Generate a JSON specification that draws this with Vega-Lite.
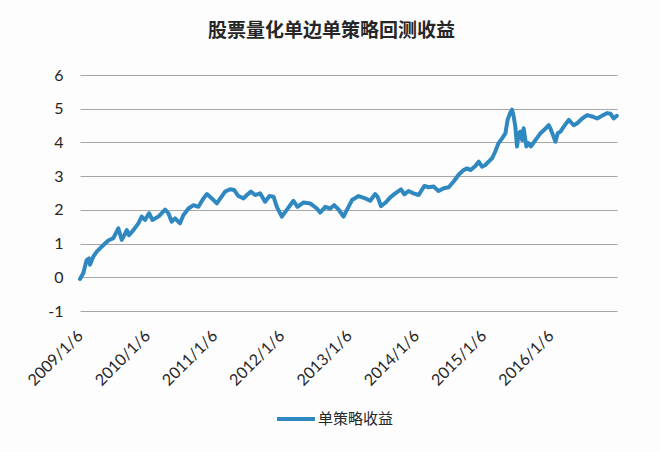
{
  "$schema": "https://vega.github.io/schema/vega-lite/v6.json",
  "autosize": "none",
  "width": 537,
  "height": 236,
  "padding": {"left": 80, "top": 75, "right": 43, "bottom": 141},
  "background": "#fdfdfe",
  "config": {"view": {"stroke": null}},
  "title": {
    "text": "股票量化单边单策略回测收益",
    "font": "Noto Sans CJK SC",
    "fontSize": 19,
    "fontWeight": "bold",
    "color": "#262626",
    "anchor": "middle",
    "dx": -17,
    "offset": 26
  },
  "data": {
    "values": [
      {"date": "2009-01-06", "v": -0.05},
      {"date": "2009-01-11", "v": 0.0},
      {"date": "2009-01-24", "v": 0.12},
      {"date": "2009-02-11", "v": 0.51},
      {"date": "2009-02-24", "v": 0.56},
      {"date": "2009-03-01", "v": 0.37},
      {"date": "2009-03-19", "v": 0.61},
      {"date": "2009-04-07", "v": 0.76},
      {"date": "2009-04-25", "v": 0.86},
      {"date": "2009-05-22", "v": 1.0},
      {"date": "2009-06-09", "v": 1.09},
      {"date": "2009-07-06", "v": 1.16},
      {"date": "2009-07-24", "v": 1.35},
      {"date": "2009-08-02", "v": 1.45},
      {"date": "2009-08-21", "v": 1.11},
      {"date": "2009-09-04", "v": 1.25},
      {"date": "2009-09-17", "v": 1.40},
      {"date": "2009-09-29", "v": 1.25},
      {"date": "2009-10-23", "v": 1.40},
      {"date": "2009-11-19", "v": 1.60},
      {"date": "2009-12-07", "v": 1.80},
      {"date": "2009-12-25", "v": 1.70},
      {"date": "2010-01-16", "v": 1.90},
      {"date": "2010-02-03", "v": 1.70},
      {"date": "2010-03-08", "v": 1.80},
      {"date": "2010-04-13", "v": 2.01},
      {"date": "2010-05-01", "v": 1.90},
      {"date": "2010-05-19", "v": 1.65},
      {"date": "2010-06-06", "v": 1.75},
      {"date": "2010-07-03", "v": 1.60},
      {"date": "2010-07-21", "v": 1.84},
      {"date": "2010-08-18", "v": 2.04},
      {"date": "2010-09-14", "v": 2.14},
      {"date": "2010-10-11", "v": 2.09},
      {"date": "2010-11-07", "v": 2.34},
      {"date": "2010-11-26", "v": 2.47},
      {"date": "2010-12-23", "v": 2.34},
      {"date": "2011-01-19", "v": 2.19},
      {"date": "2011-03-05", "v": 2.54},
      {"date": "2011-04-01", "v": 2.61},
      {"date": "2011-04-23", "v": 2.59},
      {"date": "2011-05-16", "v": 2.41},
      {"date": "2011-06-13", "v": 2.34},
      {"date": "2011-07-01", "v": 2.44},
      {"date": "2011-07-23", "v": 2.54},
      {"date": "2011-08-15", "v": 2.44},
      {"date": "2011-09-11", "v": 2.49},
      {"date": "2011-10-08", "v": 2.24},
      {"date": "2011-11-01", "v": 2.41},
      {"date": "2011-11-23", "v": 2.39},
      {"date": "2011-12-11", "v": 2.09},
      {"date": "2012-01-07", "v": 1.80},
      {"date": "2012-02-03", "v": 2.00},
      {"date": "2012-03-10", "v": 2.27},
      {"date": "2012-04-01", "v": 2.09},
      {"date": "2012-05-04", "v": 2.22},
      {"date": "2012-06-09", "v": 2.19},
      {"date": "2012-07-15", "v": 2.04},
      {"date": "2012-08-02", "v": 1.92},
      {"date": "2012-08-30", "v": 2.09},
      {"date": "2012-09-26", "v": 2.04},
      {"date": "2012-10-17", "v": 2.14},
      {"date": "2012-11-10", "v": 2.01},
      {"date": "2012-12-07", "v": 1.80},
      {"date": "2013-01-03", "v": 2.09},
      {"date": "2013-01-22", "v": 2.29},
      {"date": "2013-02-27", "v": 2.41},
      {"date": "2013-04-04", "v": 2.34},
      {"date": "2013-05-01", "v": 2.27},
      {"date": "2013-05-28", "v": 2.47},
      {"date": "2013-06-10", "v": 2.39},
      {"date": "2013-06-28", "v": 2.11},
      {"date": "2013-07-22", "v": 2.21},
      {"date": "2013-08-18", "v": 2.37},
      {"date": "2013-09-14", "v": 2.49},
      {"date": "2013-10-15", "v": 2.61},
      {"date": "2013-11-02", "v": 2.46},
      {"date": "2013-11-25", "v": 2.56},
      {"date": "2013-12-22", "v": 2.49},
      {"date": "2014-01-19", "v": 2.44},
      {"date": "2014-02-19", "v": 2.71},
      {"date": "2014-03-14", "v": 2.67},
      {"date": "2014-04-10", "v": 2.69},
      {"date": "2014-05-07", "v": 2.56},
      {"date": "2014-06-04", "v": 2.64},
      {"date": "2014-07-01", "v": 2.67},
      {"date": "2014-07-28", "v": 2.84},
      {"date": "2014-08-24", "v": 3.04},
      {"date": "2014-09-20", "v": 3.18},
      {"date": "2014-10-09", "v": 3.23},
      {"date": "2014-10-27", "v": 3.18},
      {"date": "2014-11-23", "v": 3.30},
      {"date": "2014-12-11", "v": 3.43},
      {"date": "2014-12-29", "v": 3.28},
      {"date": "2015-01-16", "v": 3.33},
      {"date": "2015-02-03", "v": 3.43},
      {"date": "2015-02-22", "v": 3.53},
      {"date": "2015-03-11", "v": 3.73},
      {"date": "2015-03-29", "v": 3.98},
      {"date": "2015-04-17", "v": 4.12},
      {"date": "2015-05-05", "v": 4.27},
      {"date": "2015-05-17", "v": 4.67},
      {"date": "2015-06-01", "v": 4.89},
      {"date": "2015-06-10", "v": 4.97},
      {"date": "2015-06-19", "v": 4.77},
      {"date": "2015-06-28", "v": 4.47},
      {"date": "2015-07-07", "v": 3.88},
      {"date": "2015-07-16", "v": 4.27},
      {"date": "2015-07-25", "v": 4.32},
      {"date": "2015-08-04", "v": 4.07},
      {"date": "2015-08-12", "v": 4.42},
      {"date": "2015-08-27", "v": 3.88},
      {"date": "2015-09-08", "v": 3.98},
      {"date": "2015-09-21", "v": 3.88},
      {"date": "2015-10-15", "v": 4.07},
      {"date": "2015-11-11", "v": 4.27},
      {"date": "2015-11-29", "v": 4.36},
      {"date": "2015-12-26", "v": 4.51},
      {"date": "2016-01-04", "v": 4.42},
      {"date": "2016-01-22", "v": 4.17},
      {"date": "2016-02-01", "v": 4.02},
      {"date": "2016-02-13", "v": 4.27},
      {"date": "2016-02-28", "v": 4.32},
      {"date": "2016-03-17", "v": 4.47},
      {"date": "2016-04-13", "v": 4.67},
      {"date": "2016-05-10", "v": 4.51},
      {"date": "2016-05-29", "v": 4.57},
      {"date": "2016-06-25", "v": 4.71},
      {"date": "2016-07-22", "v": 4.81},
      {"date": "2016-08-18", "v": 4.77},
      {"date": "2016-09-14", "v": 4.71},
      {"date": "2016-10-11", "v": 4.79},
      {"date": "2016-11-08", "v": 4.87},
      {"date": "2016-11-26", "v": 4.85},
      {"date": "2016-12-13", "v": 4.71},
      {"date": "2016-12-30", "v": 4.79}
    ]
  },
  "mark": {"type": "line", "strokeWidth": 4, "strokeJoin": "round", "strokeCap": "round"},
  "encoding": {
    "x": {
      "field": "date",
      "type": "temporal",
      "scale": {
        "type": "utc",
        "domain": [
          {"year": 2009, "month": 1, "date": 6, "utc": true},
          {"year": 2016, "month": 12, "date": 31, "utc": true}
        ]
      },
      "axis": {
        "title": null,
        "values": [
          {"year": 2009, "month": 1, "date": 6, "utc": true},
          {"year": 2010, "month": 1, "date": 6, "utc": true},
          {"year": 2011, "month": 1, "date": 6, "utc": true},
          {"year": 2012, "month": 1, "date": 6, "utc": true},
          {"year": 2013, "month": 1, "date": 6, "utc": true},
          {"year": 2014, "month": 1, "date": 6, "utc": true},
          {"year": 2015, "month": 1, "date": 6, "utc": true},
          {"year": 2016, "month": 1, "date": 6, "utc": true}
        ],
        "labelExpr": "utcFormat(datum.value, '%Y/%-m/%-d')",
        "labelAngle": -45,
        "labelAlign": "right",
        "labelBaseline": "middle",
        "labelPadding": 22,
        "labelFont": "Lato",
        "labelFontSize": 16,
        "labelColor": "#262626",
        "labelOverlap": false,
        "labelBound": false,
        "labelFlush": false,
        "ticks": false,
        "domain": false,
        "grid": false
      }
    },
    "y": {
      "field": "v",
      "type": "quantitative",
      "scale": {"domain": [-1, 6], "nice": false, "zero": false},
      "axis": {
        "title": null,
        "values": [-1, 0, 1, 2, 3, 4, 5, 6],
        "labelExpr": "'' + datum.value",
        "labelFont": "Lato",
        "labelFontSize": 16,
        "labelColor": "#262626",
        "labelPadding": 17,
        "ticks": false,
        "domain": false,
        "grid": true,
        "gridColor": "#a6a6a6",
        "gridWidth": 1
      }
    },
    "color": {
      "datum": "单策略收益",
      "type": "nominal",
      "scale": {"range": ["#2f89c0"]},
      "legend": {
        "title": null,
        "orient": "none",
        "legendX": 195,
        "legendY": 323,
        "symbolType": "stroke",
        "symbolSize": 1444,
        "symbolStrokeWidth": 4,
        "labelFont": "Noto Sans CJK SC",
        "labelFontSize": 15,
        "labelColor": "#262626",
        "labelOffset": 1
      }
    }
  }
}
